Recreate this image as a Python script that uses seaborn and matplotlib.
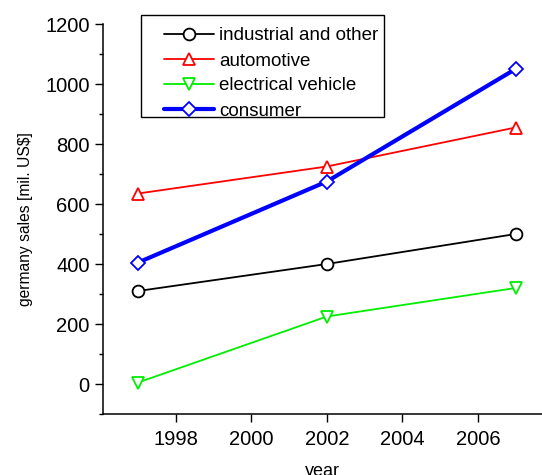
import matplotlib
matplotlib.use("Agg")
import matplotlib.pyplot as plt
from matplotlib.ticker import MultipleLocator
from matplotlib.patches import Rectangle
import seaborn as sns
import pandas as pd

years = [1997, 2002, 2007]
industrial = [310, 400, 500]
automotive = [635, 725, 855]
electrical = [5, 225, 320]
consumer = [405, 675, 1050]

series = [
    ("industrial and other", industrial, "black", "o", 1.3, 8.5),
    ("automotive", automotive, "red", "^", 1.3, 9.3),
    ("electrical vehicle", electrical, "#00ee00", "v", 1.3, 9.3),
    ("consumer", consumer, "blue", "D", 3.0, 6.8),
]

sns.set_style("ticks")
plt.rcParams["font.family"] = ["Liberation Sans", "DejaVu Sans"]
plt.rcParams["text.color"] = "black"
plt.rcParams["axes.labelcolor"] = "black"
plt.rcParams["xtick.color"] = "black"
plt.rcParams["ytick.color"] = "black"

W, H = 542, 475
fig = plt.figure(figsize=(W / 100, H / 100), dpi=100)
ax = fig.add_axes([103 / W, 1 - 414 / H, 1 - 103 / W, (414 - 24) / H])

for name, vals, color, marker, lw, ms in series:
    df = pd.DataFrame({"year": years, "sales": vals})
    sns.lineplot(data=df, x="year", y="sales", ax=ax, color=color, lw=lw,
                 marker=marker, markersize=ms, markerfacecolor="white",
                 markeredgecolor=color, markeredgewidth=1.3, label=name)

ax.set_xlim(1996.07, 2007.7)
ax.set_ylim(-100, 1200)
ax.xaxis.set_major_locator(MultipleLocator(2))
ax.yaxis.set_major_locator(MultipleLocator(200))
ax.yaxis.set_minor_locator(MultipleLocator(100))
ax.tick_params(axis="both", which="major", labelsize=14.5, length=6, width=1.0,
               direction="out")
ax.tick_params(axis="y", which="major", pad=3.5)
ax.tick_params(axis="x", which="major", pad=5.5)
ax.tick_params(axis="y", which="minor", length=3, width=1.0, direction="out")
ax.tick_params(axis="x", which="minor", length=0)
for s in ["top", "right"]:
    ax.spines[s].set_visible(False)
for s in ["left", "bottom"]:
    ax.spines[s].set_linewidth(1.1)
    ax.spines[s].set_color("black")

ax.set_xlabel("year", fontsize=13, labelpad=10)
ax.set_ylabel("germany sales [mil. US$]", fontsize=11.25, labelpad=9)

leg = ax.legend(loc="upper left", bbox_to_anchor=(155 / W, 1 - 18 / H),
                bbox_transform=fig.transFigure, borderaxespad=0,
                fontsize=13.5, frameon=False, handlelength=2.62,
                borderpad=0.5, labelspacing=0.42, handletextpad=0.28)

# legend frame with a wider left margin than the legend box itself
frame = Rectangle((140.5 / W, 1 - 117 / H), (384 - 140.5) / W, (117 - 15) / H,
                  transform=fig.transFigure, fill=True, facecolor="white",
                  edgecolor="black", lw=1.0, zorder=4)
fig.add_artist(frame)
leg.set_zorder(5)
fig.add_artist(leg)

fig.savefig("out.png", dpi=100)
